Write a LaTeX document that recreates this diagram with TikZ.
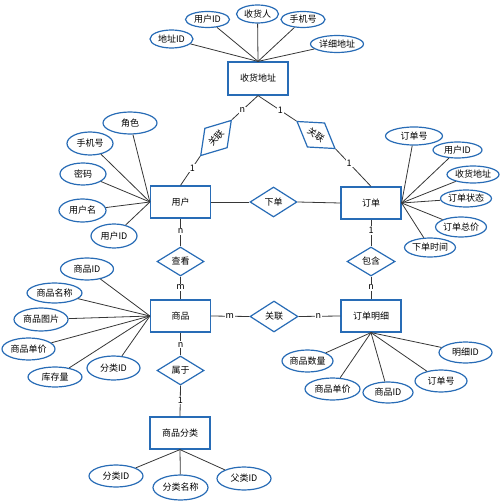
\documentclass[tikz,border=0pt]{standalone}
\usepackage{fontspec}
\setmainfont{Noto Sans CJK SC}
\usetikzlibrary{shapes.geometric}
\definecolor{erblue}{RGB}{40,108,182}
\definecolor{erline}{RGB}{55,55,55}
\newcommand{\erfs}{\fontsize{9bp}{11bp}\selectfont}
\tikzset{
  ent/.style={draw=erblue, line width=1.2bp, fill=white, minimum width=60bp, minimum height=32bp, inner sep=0pt, font=\erfs},
  rel/.style={diamond, draw=erblue, line width=1.2bp, fill=white, minimum width=47bp, minimum height=30bp, inner sep=0pt, font=\erfs},
  attr/.style 2 args={ellipse, draw=erblue, line width=1.2bp, fill=white, minimum width=#1bp, minimum height=#2bp, inner sep=0pt, font=\erfs},
  lnk/.style={draw=erline, line width=0.8bp},
  card/.style={fill=white, inner sep=1bp, font=\erfs}
}
\begin{document}
\begin{tikzpicture}[x=1bp, y=-1bp]
\useasboundingbox (0,0) rectangle (500,504);
% entities
\node[ent, minimum height=33bp] (addr) at (258,78.5) {收货地址};
\node[ent] (user) at (180.5,202) {用户};
\node[ent] (order) at (371,203) {订单};
\node[ent] (goods) at (180.5,316) {商品};
\node[ent] (detail) at (371,316) {订单明细};
\node[ent] (cat) at (180,433) {商品分类};
% relationships
\node[rel] (xd) at (273.5,202) {下单};
\node[rel, minimum height=29bp] (ck) at (180.5,261.5) {查看};
\node[rel, minimum height=29bp, minimum width=48bp] (bh) at (371,261.5) {包含};
\node[rel, minimum height=29bp] (sy) at (180.5,370.5) {属于};
\node[rel, minimum width=48bp, minimum height=31bp] (gl) at (274,316.5) {关联};
\node[rel, rotate=49] (glA) at (216,138) {关联};
\node[rel, rotate=-35.5] (glB) at (316,135) {关联};
% attributes of 收货地址
\node[attr={43}{18}] (a1) at (171.5,39) {地址ID};
\node[attr={44}{16}] (a2) at (207.5,19.5) {用户ID};
\node[attr={42}{18}] (a3) at (257.5,14) {收货人};
\node[attr={44}{16}] (a4) at (303,19.5) {手机号};
\node[attr={53}{17}] (a5) at (337,44) {详细地址};
\foreach \n in {a1,a2,a3,a4,a5} \draw[lnk] (\n) -- (addr.north);
% attributes of 用户
\node[attr={54}{22}] (u1) at (130,123) {角色};
\node[attr={46}{23}] (u2) at (90,143.5) {手机号};
\node[attr={46}{22}] (u3) at (83,174) {密码};
\node[attr={47}{23}] (u4) at (82.5,210.5) {用户名};
\node[attr={46}{24}] (u5) at (114,236) {用户ID};
\foreach \n in {u1,u2,u3,u4,u5} \draw[lnk] (\n) -- (user.west);
% attributes of 订单
\node[attr={57}{18}] (o1) at (414,136) {订单号};
\node[attr={49}{16}] (o2) at (457.5,150) {用户ID};
\node[attr={52}{17}] (o3) at (473,174.5) {收货地址};
\node[attr={50}{17}] (o4) at (466,198.5) {订单状态};
\node[attr={49}{20}] (o5) at (461,227) {订单总价};
\node[attr={50}{19}] (o6) at (430,247.5) {下单时间};
\foreach \n in {o1,o2,o3,o4,o5,o6} \draw[lnk] (\n) -- (order.east);
% attributes of 商品
\node[attr={53}{22}] (g1) at (87,269) {商品ID};
\node[attr={55}{20}] (g2) at (54.5,293) {商品名称};
\node[attr={54}{23}] (g3) at (41,319.5) {商品图片};
\node[attr={53}{22}] (g4) at (28.5,349) {商品单价};
\node[attr={54}{20}] (g5) at (55,377) {库存量};
\node[attr={53}{24}] (g6) at (113.5,368) {分类ID};
\foreach \n in {g1,g2,g3,g4,g5,g6} \draw[lnk] (\n) -- (goods.west);
% attributes of 订单明细
\node[attr={51}{22}] (d1) at (307.5,361) {商品数量};
\node[attr={55}{22}] (d2) at (332.5,389) {商品单价};
\node[attr={50}{21}] (d3) at (388,392.5) {商品ID};
\node[attr={52}{22}] (d4) at (441,381) {订单号};
\node[attr={53}{21}] (d5) at (465.5,352.5) {明细ID};
\foreach \n in {d1,d2,d3,d4,d5} \draw[lnk] (\n) -- (detail.south);
% attributes of 商品分类
\node[attr={54}{22}] (c1) at (116,476) {分类ID};
\node[attr={55}{25}] (c2) at (180.5,487.5) {分类名称};
\node[attr={54}{23}] (c3) at (244,478.5) {父类ID};
\foreach \n in {c1,c2,c3} \draw[lnk] (\n) -- (cat.south);
% relationship connectors
\draw[lnk] (user.north) -- node[card, pos=0.6] {1} (glA.west);
\draw[lnk] (glA.east) -- node[card, pos=0.4] {n} (addr.south);
\draw[lnk] (addr.south) -- node[card, pos=0.58] {1} (glB.west);
\draw[lnk] (glB.east) -- node[card, pos=0.38] {1} (order.north);
\draw[lnk] (user.east) -- (xd.west);
\draw[lnk] (xd.east) -- (order.west);
\draw[lnk] (user.south) -- node[card, pos=0.45] {n} (ck.north);
\draw[lnk] (ck.south) -- node[card, pos=0.46] {m} (goods.north);
\draw[lnk] (goods.south) -- node[card, pos=0.54] {n} (sy.north);
\draw[lnk] (sy.south) -- node[card, pos=0.47] {1} (cat.north);
\draw[lnk] (order.south) -- node[card, pos=0.4] {1} (bh.north);
\draw[lnk] (bh.south) -- node[card, pos=0.46] {n} (detail.north);
\draw[lnk] (goods.east) -- node[card, pos=0.49] {m} (gl.west);
\draw[lnk] (gl.east) -- node[card, pos=0.47] {n} (detail.west);
\end{tikzpicture}
\end{document}
